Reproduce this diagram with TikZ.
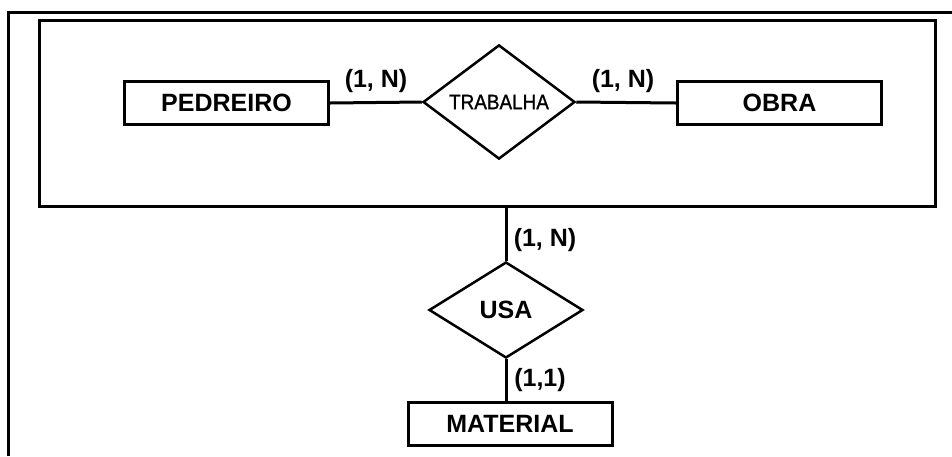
\documentclass[tikz,border=0pt]{standalone}
\usepackage{fontspec}
\setmainfont{Liberation Sans}
\newfontfamily\relfont[FakeBold=1.2]{Liberation Sans}
\usetikzlibrary{shapes.geometric}
\begin{document}
\begin{tikzpicture}[x=1pt,y=-1pt,
  ent/.style={draw,line width=3pt,minimum width=204pt,minimum height=43pt,inner sep=0pt,
    font=\fontsize{25}{25}\selectfont\bfseries},
  rel/.style={draw,diamond,line width=2.5pt,inner sep=0pt},
  lbl/.style={inner sep=0pt,font=\fontsize{25}{25}\selectfont\bfseries},
  conn/.style={line width=3pt},
  aggbox/.style={draw,line width=3.5pt,minimum width=896pt,minimum height=186pt,inner sep=0pt}]
\useasboundingbox (0,0) rectangle (952,456);
\draw[line width=3pt] (8,456) -- (8,12) -- (952,12);
\node[aggbox] (agg) at (487.5,113.5) {};
\node[ent] (ped) at (226.5,103) {PEDREIRO};
\node[ent] (obra) at (779.5,103) {OBRA};
\node[rel,minimum width=152pt,minimum height=98pt,font=\relfont\fontsize{21}{21}\selectfont] (trab) at (499,102) {\scalebox{0.9}[1]{TRABALHA}};
\node[rel,minimum width=154pt,minimum height=96pt,font=\fontsize{25}{25}\selectfont\bfseries] (usa) at (506,310) {USA};
\node[ent] (mat) at (510,424) {MATERIAL};
\draw[conn] (ped.east) -- (trab.west);
\draw[conn] (trab.east) -- (obra.west);
\draw[conn] (usa.north |- agg.south) -- (usa.north);
\draw[conn] (usa.south) -- (usa.south |- mat.north);
\node[lbl] (l1) at (376,81) {(1, N)};
\node[lbl] (l2) at (623,81) {(1, N)};
\node[lbl] (l3) at (545,240) {(1, N)};
\node[lbl] (l4) at (540,380) {(1,1)};
\end{tikzpicture}
\end{document}
